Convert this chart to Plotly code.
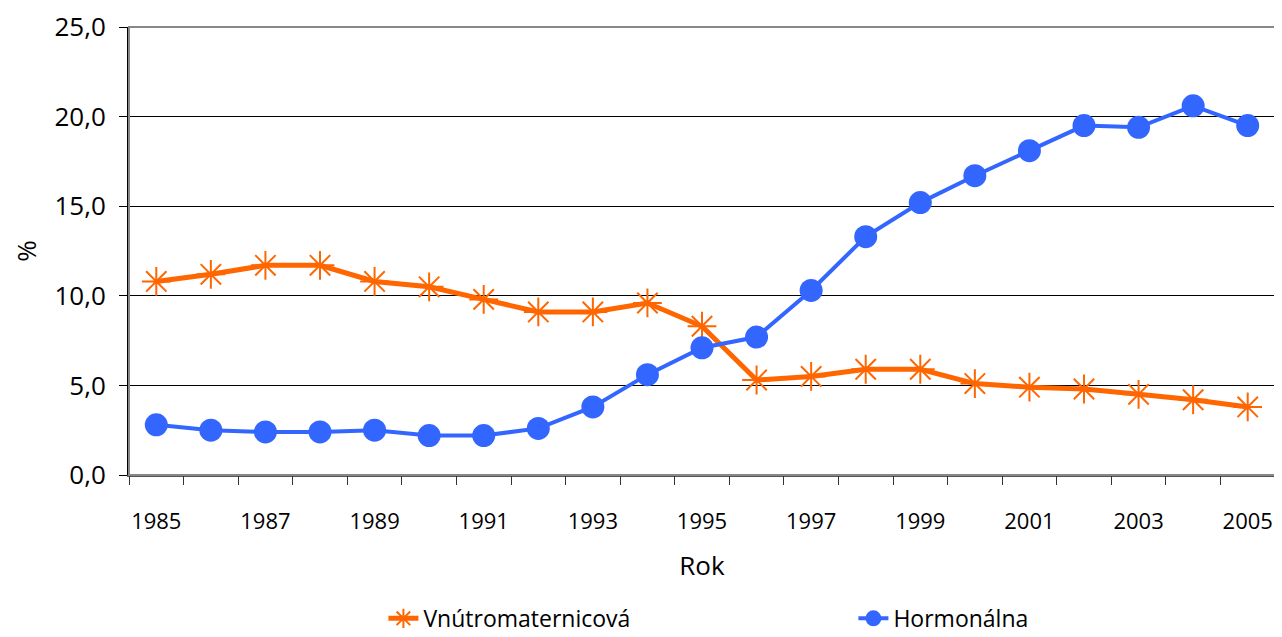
import plotly.graph_objects as go

# roky a hodnoty (%)
roky = list(range(1985, 2006))
vnutromaternicova = [10.8, 11.2, 11.7, 11.7, 10.8, 10.5, 9.8, 9.1, 9.1, 9.6, 8.3,
                     5.3, 5.5, 5.9, 5.9, 5.1, 4.9, 4.8, 4.5, 4.2, 3.8]
hormonalna = [2.8, 2.5, 2.4, 2.4, 2.5, 2.2, 2.2, 2.6, 3.8, 5.6, 7.1,
              7.7, 10.3, 13.3, 15.2, 16.7, 18.1, 19.5, 19.4, 20.6, 19.5]
y_ticks = [0, 5, 10, 15, 20, 25]

FONT = "Open Sans"
fig = go.Figure()

fig.add_trace(go.Scatter(
    x=roky, y=vnutromaternicova, name="Vnútromaternicová",
    mode="lines+markers",
    line=dict(color="#FF6600", width=5),
    marker=dict(symbol="asterisk-open", size=24, color="#FF6600",
                line=dict(color="#FF6600", width=2)),
))
fig.add_trace(go.Scatter(
    x=roky, y=hormonalna, name="Hormonálna",
    mode="lines+markers",
    line=dict(color="#3366FF", width=4),
    marker=dict(symbol="circle", size=23, color="#3366FF"),
))
# neviditeľná stopa pre os s deliacimi čiarkami medzi rokmi
fig.add_trace(go.Scatter(x=roky, y=hormonalna, xaxis="x2", showlegend=False,
                         hoverinfo="skip", mode="none"))

fig.update_layout(
    width=1274, height=629,
    separators=", ",
    paper_bgcolor="white", plot_bgcolor="white",
    margin=dict(l=121, r=7, t=19, b=162, autoexpand=False),
    font=dict(family=FONT, size=20, color="#000"),
    xaxis=dict(
        range=[1984.5, 2005.5], automargin=False,
        tickvals=roky[::2], ticktext=[str(r) for r in roky[::2]],
        ticks="", showgrid=False, zeroline=False,
        showline=True, linecolor="#555", linewidth=2,
        tickfont=dict(size=22), ticklabelstandoff=26,
        ticklabeloverflow="allow",
        title=dict(text="Rok", font=dict(size=26), standoff=22),
    ),
    xaxis2=dict(
        overlaying="x", matches="x", range=[1984.5, 2005.5],
        tickvals=[r - 0.5 for r in roky] + [2005.5],
        showticklabels=False, ticks="outside", ticklen=9,
        tickcolor="#333", tickwidth=1, showgrid=False, zeroline=False,
    ),
    yaxis=dict(
        range=[0, 25], tickvals=y_ticks, tickformat=".1f", automargin=False,
        ticks="outside", ticklen=8, tickcolor="#000",
        showgrid=True, gridcolor="#000", gridwidth=1,
        showline=True, linecolor="#000", linewidth=2, zeroline=False,
        tickfont=dict(size=26), ticklabelstandoff=8,
        ticklabeloverflow="allow",
        title=dict(text="%", font=dict(size=26), standoff=40),
    ),
    legend=dict(orientation="h", x=0.222, xanchor="left", y=-0.272, yanchor="top",
                font=dict(size=23), tracegroupgap=0,
                entrywidth=425, entrywidthmode="pixels"),
    shapes=[dict(type="rect", xref="paper", yref="paper", x0=0, x1=1, y0=0, y1=1,
                 line=dict(color="#888", width=2), layer="above")],
    showlegend=True,
)

fig.write_html("out.html")
